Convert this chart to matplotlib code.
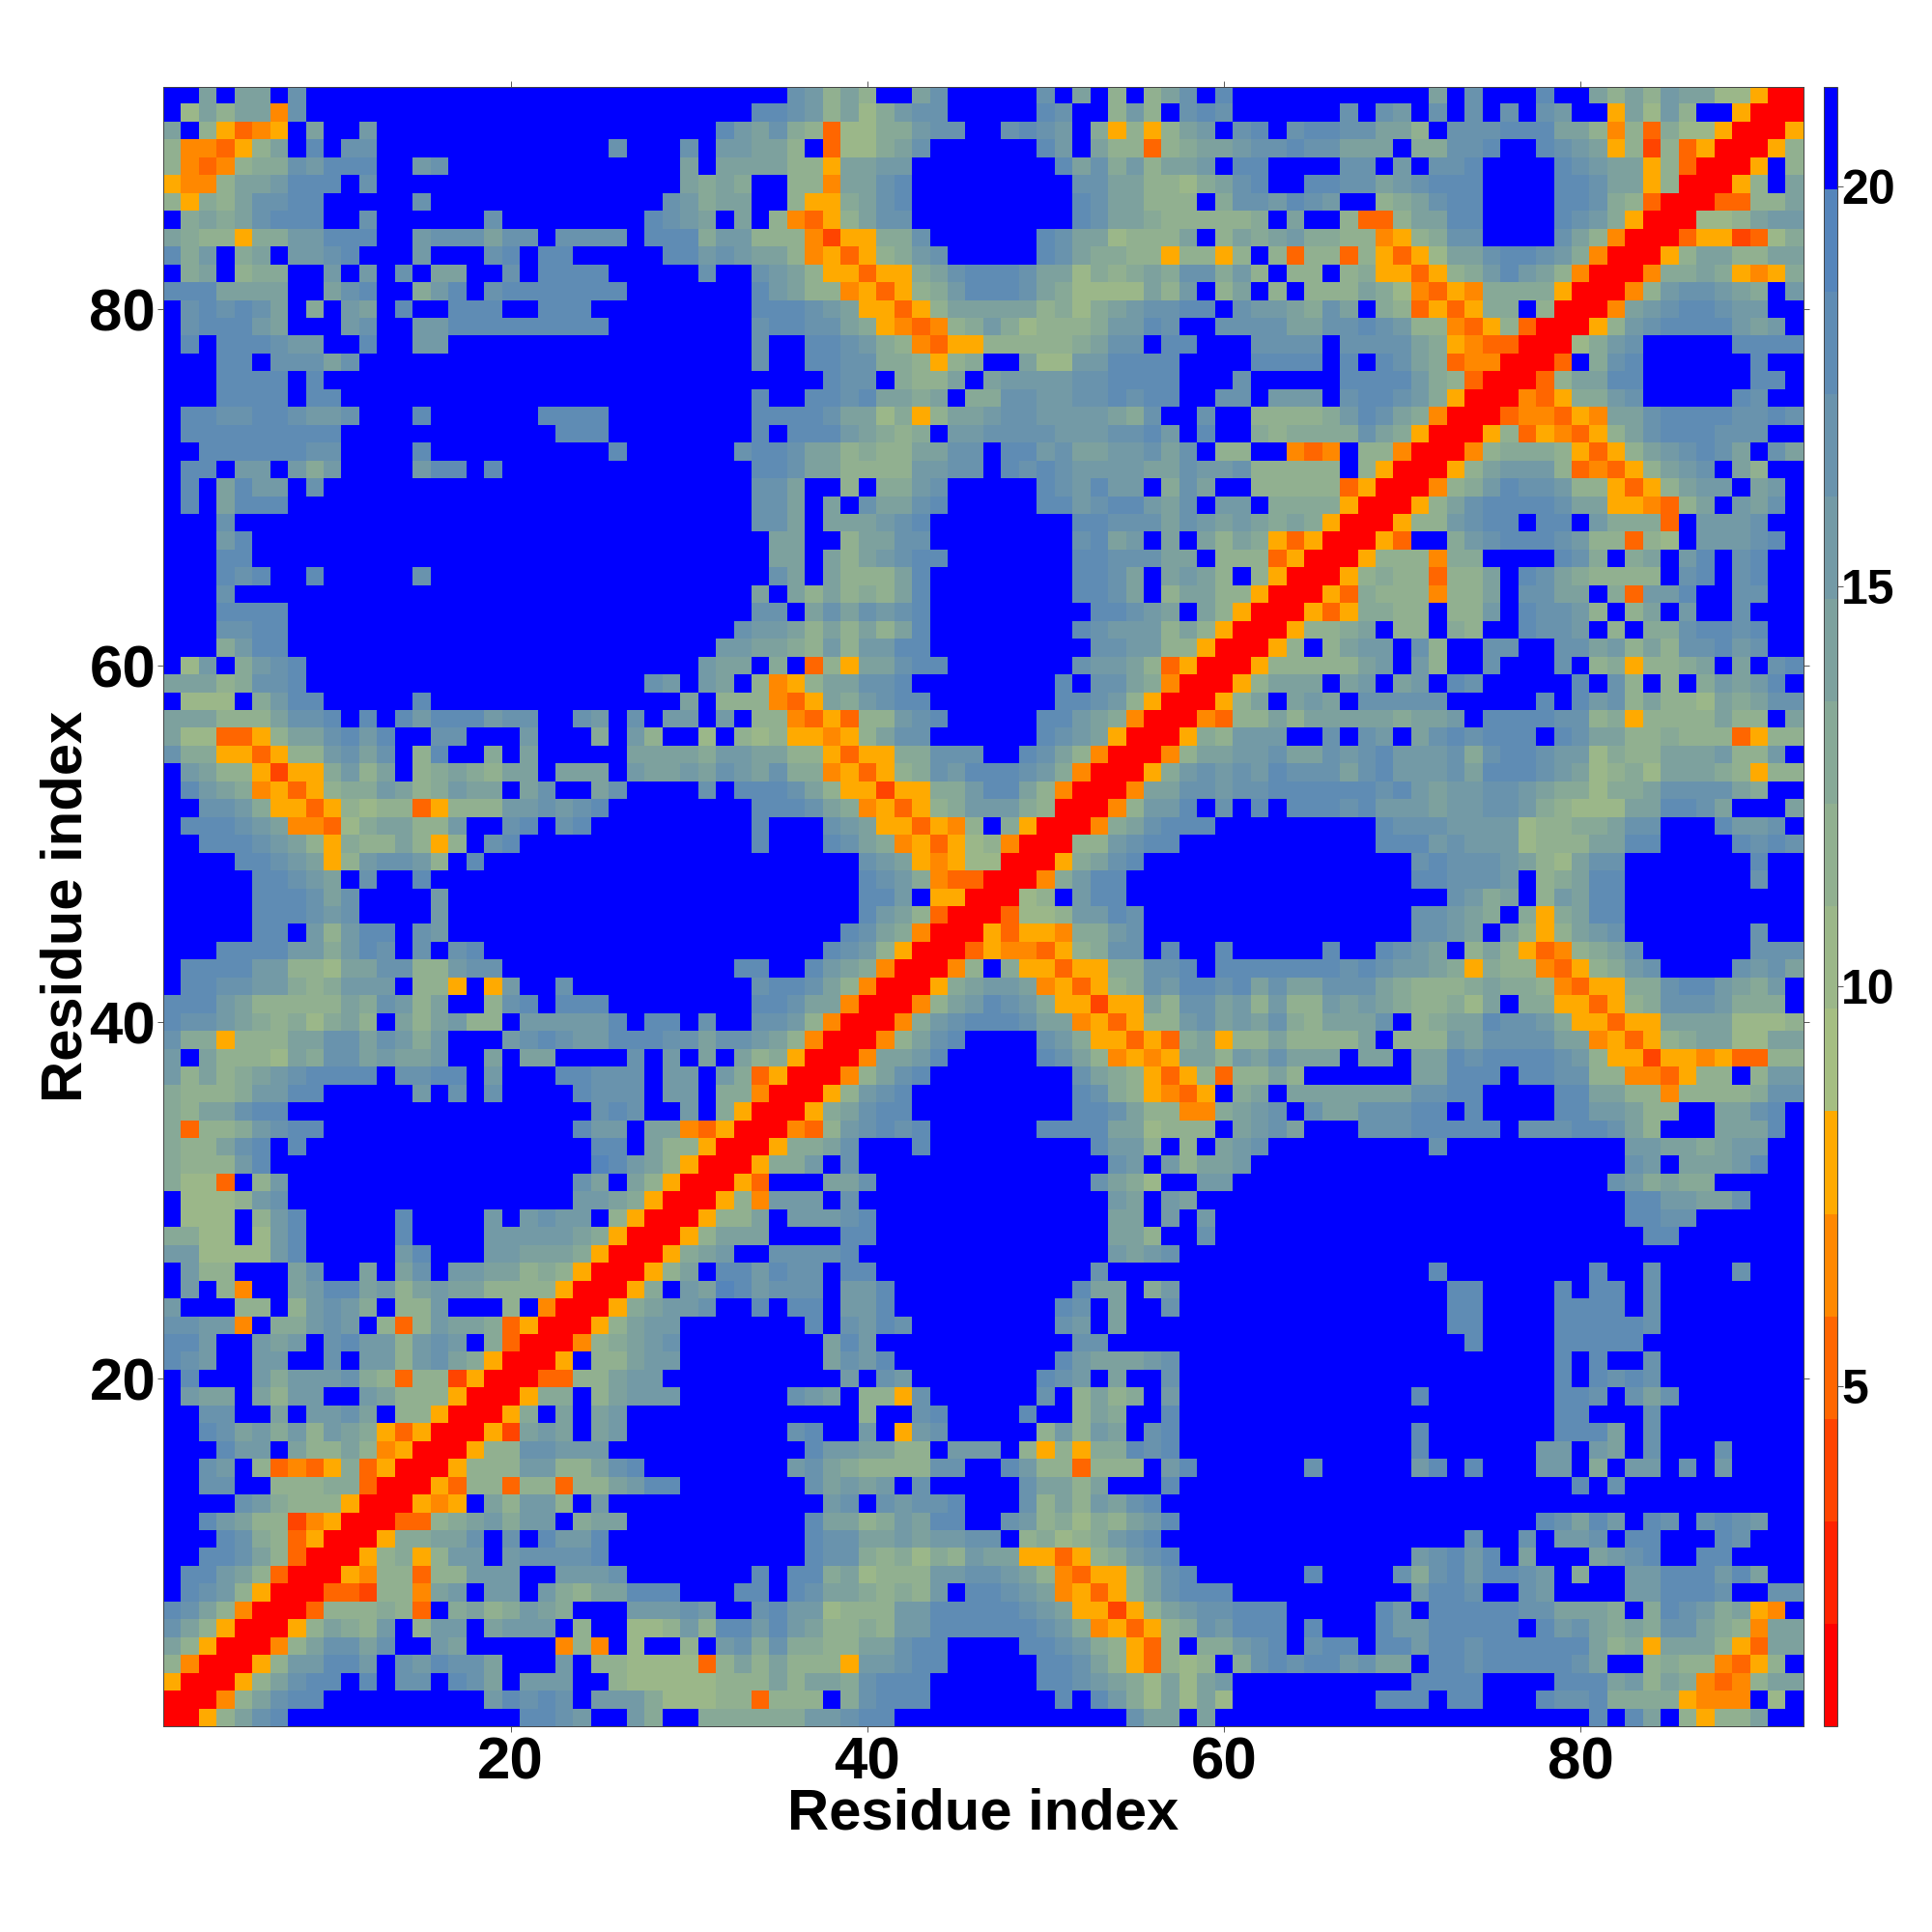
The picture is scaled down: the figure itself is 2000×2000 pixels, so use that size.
import numpy as np
import matplotlib
matplotlib.use("Agg")
import matplotlib.pyplot as plt
from matplotlib.colors import ListedColormap, BoundaryNorm

plt.rcParams['font.family'] = ['Liberation Sans', 'DejaVu Sans']
plt.rcParams['font.weight'] = 'bold'

# distance classes, one hex digit per cell
# top row of the picture first (residue 92 down to 1), columns from residue 1
# short rows stop at the diagonal, the rest comes from the symmetry
map_rows = [
    "ffafaafcff ffffffffff ffffffffff fffffcb8a8 ffacfffffc faf8f8acfd ffffffffff fafcfffdff a8a8baa775 00",
    "f7a8aa4cff ffffffffff ffffffffff fffddcb8a7 9bccfffffd cff8b8fcdc ffffffcfcb fcfcfcfcbf f5a7b8ff50 00",
    "af85345faf fbffffffff ffffffffff fdbac98377 99bccffcdc bf95858abf cdfcddccaa 8fcccdddaa 8483977500 05",
    "844358afdf ccffffffff fffffcfffc fbbaa8f377 9acffffffd bfa88389aa bccdccaaaf 99ccdffdcb a582835000 58",
    "8434899cbd ddffbcffff fffffffffa faaaa885aa bbffffffff dac9b8aabf ddffffccfb fccdffffdc baa5830005 f8",
    "5448aabddd fcffffffff fffffffffa 9a9ff884aa cdffffffff fccaa8879a cdffddccab cdddffffdd caa5800058 fa",
    "8598accddf ffffcfffff ffffffffcb 9aaff8559a cdffffffff fdcaa888f9 ccbdcbff89 acddffffdd c983000338 8a",
    "f9a9acdddf fcffffffcf fffffffdcb afaf84358a ccffffffff fdcaa98888 89faff8338 aaddffffdc b95000778a bb",
    "a988599bbd ddffbcccac cfccccfddd 9bb8884255 99cffffffd caa7888af8 a9ab998845 89ccffffca 8400035523 79",
    "d9bf9afbbc dfffbfffcd fddfffffdd bcbaa84535 89bcfffffd ca99885885 8f83883853 57aacddcb9 400058aa88 aa",
    "f9af899ffb fbfcfaaffc fddddfffff cffcba8553 559acdddca a7989a9cc9 b8f88f8955 3589bdba84 000499a954 59",
    "dddaaaaffa cdff9bdfcd ddddddffff fffdba8845 3589bdddca 97777a8bf8 af8f888a97 4354999950 0048bccba9 fb",
    "fcdcdcaf9f bafdffdddf fdddffffff fffdddcba5 5358aaaaa8 979abccddf cbba9caf98 353599f800 04abcddcbb ff",
    "fcdddbafff bcffbbdddd dddddfffff fffcddcca9 543489b978 889bbdcffc cccaaccdcb 8843583000 58bcddddba bf",
    "fdfdddcbbf fdffbbffff ffffffffff fffcffddcb 9843558888 89accfddff fccccfcccc a954330007 9bcfffffdd dd",
    "fffddfccca cfffffffff ffffffffff fffcffddcc 998589ffa7 7bbddddfff fddddfdfdc a93440003f 9cdffffffd ff",
    "fffddddfdf ffffffffff ffffffffff fffffffdcc f988afabbb bccddddfff cfffffdddd b98300038a addffffffd df",
    "fffddddfdd ffffffffff ffffffffff fffdffddcd aa9af99ccb bccdcddffc cfbbbfcddc b950004359 9bcfffffdc ff",
    "fddccddcbb cfffdfffff fddddfffff fffddddcaa 7958aabccb bbba9cffcf f88889bdca 9400034435 4aacddddcc dc",
    "fddddddddd ffffffffff ffdddfffff fffdfdddba 989fbbcccc bbbccdbfdf f989999ca9 5000583543 58acdddccc ff",
    "ffddddddcc ffffdfffff fffffdffff ffcddcaa89 88aaccfddb caabbcacf8 8ff434f884 0004899985 358abcdcaf ca",
    "fddfbbfb9b ffffbddfdf ffffffffff fffddcaa88 88bbccfdcd cbbbbaacbb c88888f850 0058abbb83 4358abcfa8 ff",
    "fdfadbbfcf ffffffffff ffffffffff fffccaff8f 99bcfffffd cbdbbf9caf f888883500 0489bdccb8 85358abbfa bf",
    "fdfadddfff ffffffffff ffffffffff fffccafafc aacdfffffd dbcddbacfb bf99995000 58acddddca a55438afba cf",
    "fffcffffff ffffffffff ffffffffff fffccafaaa bcdfffffff fddcccacba ba9a950005 88bcddfddf b9993fbbbc ff",
    "fffbdfffff ffffffffff ffffffffff ffffaaff8a accfffffff fcdabfafa8 a953500053 ff9bcdddcb 88387fbbbc df",
    "fffddfffff ffffffffff ffffffffff ffffaafa8a bcddffffff fddcccaaf8 8835000588 8499ffffdc 9f9afbdfcd ff",
    "fffdcdffdf ffffcfffff ffffffffff ffffcafa88 8adfffffff fddcafaba8 f850005898 8388afdca9 8888fcdfcd ff",
    "fffcffffff ffffffffff ffffffffff fffafa8a89 8adfffffff fddcaf8aa8 8500053988 8488afccaa f93bbdffcc ff",
    "fffddddfff ffffffffff ffffffffff fffccfacac bcdfffffff ffddcbafa8 500",
    "fffccddfff ffffffffff ffffffffff ffcbba8a8a 8adfffffff fdcbbb8a85 00",
    "fff9bddfff ffffffffff ffffffffff fbbaa98b8b bddfffffff ffccbb8850 0",
    "f7bf9bcdff ffffffffff ffffffffff baaf9f385a acddffffff fcbba83500",
    "aaa89ccdff ffffffffff fffffffcbf baf8458aac cdffffffff dfcca9400",
    "f777f9bddf ffffdfffff fffffffffa f888435a9b cddfffffff ddcb8500",
    "aaa888accd fdfdbdddbc cffcbfcfbb fbf8843538 8bcdfffffd dba9400",
    "a773358aac dbdffccfff bfff9fb8ff 7f87855458 accffffffd cba500",
    "c99553588b cacf8dff9f afffffaaaa 9bbaa88535 599cccffdc a8400",
    "fba8852559 b8af89a98a afaaafbaab acbac99453 589cbdddcb 9400",
    "fdba945358 99ba89baaf acffacffff cfdddca855 25599bdda8 400",
    "ffccb95535 878835888b bcbcdfffff fffdddca94 53589bbb98 00",
    "fdddcba443 79aa88bffc dfcdffffff fffdfffcba 553548f950 0",
    "ffdddcba85 988a858fcd ffffffffff fffdfffdca 9453578400",
    "ffffddcba5 8bccb8fdff ffffffffff fffffffffc ba5457700",
    "fffffddcba fcffdfffff ffffffffff fffffffffd cb943300",
    "fffffdddca cffffbffff ffffffffff fffffffffd dbf5500",
    "fffffdddcb cffffbffff ffffffffff fffffffffd ba8300",
    "fffffddfb8 bddfcbffff ffffffffff ffffffffdc a9400",
    "fffddddbb9 bdcfcfcdff ffffffffff fffffffdcb 8500",
    "fddddbb887 aacc88bccf ffffffffff ffddffdba9 400",
    "fddccbb989 bbbf885f5b ffcfffffff fffcddca84 00",
    "dddba88888 a9cb8aff8c dfdddfffff fffddcaa40 0",
    "dccba98979 a8fa8ab88f bbbbbdfddf cffccb8400",
    "c995888aac cacb9bfffb cdcbbdddcc accba8400",
    "bfa8887a9c cabaabffaf aaffffcfbf afa89500",
    "b8a89abcdd ddfccddfbf ffddcccfbb fb93500",
    "98889bbddf ffffbfcfcf fffdcccfbb f99400",
    "98aacddfff ffffffffff ffffcdcffb f9500",
    "93889bcddf ffffffffff fffdbbfaa4 3500",
    "988acdfdff ffffffffff ffffddfa88 500",
    "9888bdffff ffffffffff ffffedba85 00",
    "9773f8bfff ffffffffff fffcafa850 0",
    "f7778bcfff ffffffffff fffbba9500",
    "f777f8bdff fffdffffbf bcbbf8500",
    "9977f7bdff fffdffffbb bbba9500",
    "bb7777bdff fffbdfffbb aaa9500",
    "fb88fffacf fafacfbbaa 898500",
    "fbf84ffabd dab8abaa88 88500",
    "bfff88f8bc b9f88bfff8 f400",
    "ccbb4f99bc bf838baa93 500",
    "ddbffbabfc dbb8bcbf93 00",
    "dcbffbbffc fbb8bca950 0",
    "fdfffb9bbb c983882500",
    "fbaafa8bbf fba888500",
    "ffccffafbb caf88500",
    "ffdcab9b8b a953500",
    "fffdbbfa88 a84500",
    "ffcbf83435 93500",
    "ffccff8889 9300",
    "ffffcb9888 500",
    "ffdba88245 00",
    "fffdc98350 0",
    "ffddca8300",
    "fddba8300",
    "fdcb8500",
    "dca8400",
    "ca8500",
    "a8500",
    "8400",
    "500",
    "00",
    "0",
]

levels = np.linspace(0.75, 21.25, 17)
level_colors = ['#ff0000', '#ff2200', '#ff4400', '#ff6600', '#ff8800', '#ffaa00',
                '#a5be82', '#9bb789', '#91b090', '#87a997', '#7da19e', '#739aa6',
                '#6993ad', '#5f8cb4', '#5585bb', '#0000ff']
bar_ticks = [5, 10, 15, 20]
axis_ticks = [20, 40, 60, 80]
n = len(map_rows)

# class number -> middle of its distance bin
dist = np.full((n, n), np.nan)
for i, row in enumerate(map_rows):
    row = row.replace(' ', '')
    res = n - i
    assert len(row) == res or len(row) == n, (res, len(row))
    for j, c in enumerate(row):
        k = int(c, 16)
        dist[res - 1, j] = (levels[k] + levels[k + 1]) / 2
for a in range(n):
    for b in range(n):
        if np.isnan(dist[a, b]):
            dist[a, b] = dist[b, a]

fig = plt.figure(figsize=(20, 20), dpi=100)
W = 2000.0
left, right, top, bottom = 168.8, 1866.7, 89.6, 1787.0
ax = fig.add_axes([left / W, 1 - bottom / W, (right - left) / W, (bottom - top) / W])
cmap = ListedColormap(level_colors)
norm = BoundaryNorm(levels, cmap.N)
im = ax.imshow(dist, origin='lower', extent=(0.5, n + 0.5, 0.5, n + 0.5),
               cmap=cmap, norm=norm, interpolation='nearest', aspect='auto')

ax.set_xticks(axis_ticks)
ax.set_yticks(axis_ticks)
ax.tick_params(axis='both', which='major', labelsize=44.5, length=4.5, width=0.7, color='#555555',
               top=True, right=True, direction='out', pad=3)
ax.tick_params(axis='y', pad=1)
ax.set_xlabel("Residue index", fontsize=43, fontweight='bold', labelpad=-3)
ax.set_ylabel("Residue index", fontsize=43, fontweight='bold', labelpad=-3)
for s in ax.spines.values():
    s.set_linewidth(0.7)
    s.set_color('#444444')

cax = fig.add_axes([1888 / W, 1 - bottom / W, 14 / W, (bottom - top) / W])
cbar = fig.colorbar(im, cax=cax, ticks=bar_ticks, spacing='proportional', drawedges=False)
cbar.ax.tick_params(labelsize=36, length=4, width=0.7, color='#555555', pad=-1)
cbar.minorticks_off()
cbar.outline.set_linewidth(0.7)
cbar.outline.set_edgecolor('#444444')

fig.savefig("out.png", dpi=100, facecolor='white')
